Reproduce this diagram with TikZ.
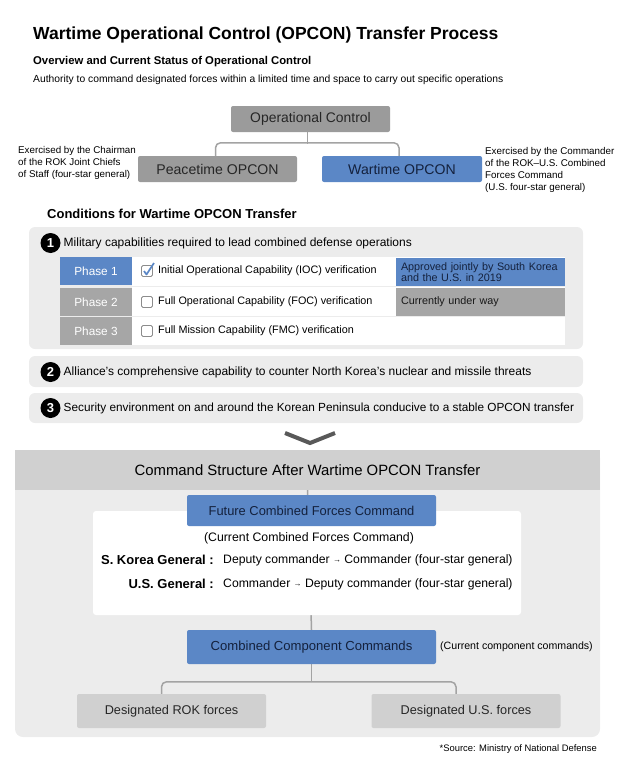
\documentclass[tikz,border=0pt]{standalone}
\usepackage{fontspec}
\setmainfont{Liberation Sans}
\usetikzlibrary{positioning}
\newcommand{\pxfont}[1]{\fontsize{#1}{#1}\selectfont}
\definecolor{opblue}{RGB}{91,135,198}
\definecolor{navy}{RGB}{20,33,61}
\definecolor{ocgray}{RGB}{155,155,155}
\definecolor{phasegray}{RGB}{166,166,166}
\definecolor{panel}{RGB}{236,236,236}
\definecolor{headgray}{RGB}{208,208,208}
\definecolor{linegray}{RGB}{163,163,163}
\definecolor{tickgray}{RGB}{140,140,140}
\pgfdeclarelayer{back}
\pgfdeclarelayer{wires}
\pgfsetlayers{back,wires,main}

\begin{document}
\begin{tikzpicture}[x=1pt,y=-1pt,
  box/.style={rounded corners=2pt, inner sep=0pt, minimum height=26pt},
  greybox/.style={box, fill=ocgray, text=black!85},
  bluebox/.style={box, fill=opblue, text=navy},
  forcebox/.style={box, fill=headgray, text=black!85, minimum width=189pt, minimum height=34pt, font=\pxfont{12.7}},
  phase/.style={fill=#1, text=white, minimum width=72pt, minimum height=28pt, inner sep=0pt, font=\pxfont{11.8}},
  status/.style={fill=#1, text=navy, text width=159pt, minimum height=28pt, inner xsep=5pt, inner ysep=0pt, align=left, font=\fontsize{10.8}{11}\selectfont},
  note/.style={align=left, inner sep=0pt, font=\fontsize{9.8}{12}\selectfont},
  link/.style={draw=linegray, line width=1.5pt, rounded corners=5pt},
  num/.style={circle, fill=black, text=white, minimum size=20pt, inner sep=0pt, font=\bfseries\pxfont{13}},
  tickbox/.style={draw=tickgray, line width=0.8pt, rounded corners=1.5pt, minimum size=11pt, inner sep=0pt},
  cond/.style={anchor=west, inner sep=0pt, font=\pxfont{12}},
  rowtext/.style={anchor=west, inner sep=0pt, font=\pxfont{10.8}},
]
  \useasboundingbox (0,0) rectangle (620,760);

  % heading
  \node[anchor=west, inner sep=0pt, font=\bfseries\pxfont{17.5}] (title) at (33,35) {Wartime Operational Control (OPCON) Transfer Process};
  \node[anchor=west, inner sep=0pt, font=\bfseries\pxfont{11.3}] (subtitle) at (33,62) {Overview and Current Status of Operational Control};
  \node[anchor=west, inner sep=0pt, font=\pxfont{10.3}] (desc) at (33,80) {Authority to command designated forces within a limited time and space to carry out specific operations};

  % operational control tree
  \node[greybox, minimum width=159pt, font=\pxfont{13.9}] (oc) at (310.5,119) {Operational Control};
  \node[greybox, minimum width=159pt, font=\pxfont{14.1}] (peace) at (217.5,169) {Peacetime OPCON};
  \node[bluebox, minimum width=160pt, font=\pxfont{14.1}] (war) at (402,169) {Wartime OPCON};
  \node[note, anchor=north west] (peacenote) at (18,146) {Exercised by the Chairman\\of the ROK Joint Chiefs\\of Staff (four-star general)};
  \node[note, anchor=north west] (warnote) at (485,147) {Exercised by the Commander\\of the ROK--U.S. Combined\\Forces Command\\(U.S. four-star general)};
  \begin{pgfonlayer}{wires}
    \draw[link] ([xshift=-2pt]peace.north) -- ++(0,-13) -| ([xshift=-3pt]war.north);
    \draw[link] ([xshift=-3pt]oc.south) -- ++(0,12);
  \end{pgfonlayer}

  % conditions
  \node[anchor=west, inner sep=0pt, font=\bfseries\pxfont{13}] (condtitle) at (47,214) {Conditions for Wartime OPCON Transfer};
  \begin{pgfonlayer}{back}
    \fill[panel, rounded corners=6pt] (29,227) rectangle (583,349);
    \fill[panel, rounded corners=6pt] (29,356) rectangle (583,387);
    \fill[panel, rounded corners=6pt] (29,393) rectangle (583,423);
    \fill[white] (132,257) rectangle (565,345);
    \draw[panel, line width=1pt] (132,286.5) -- (565,286.5) (132,316.3) -- (565,316.3);
  \end{pgfonlayer}
  \node[num] (n1) at (50.5,243) {1};
  \node[cond] (c1text) at (63.5,243) {Military capabilities required to lead combined defense operations};
  \node[phase=opblue] (p1) at (96,271) {Phase 1};
  \node[phase=phasegray] (p2) at (96,302) {Phase 2};
  \node[phase=phasegray] (p3) at (96,331) {Phase 3};
  \node[tickbox] (b1) at (147,271) {};
  \node[tickbox] (b2) at (147,302) {};
  \node[tickbox] (b3) at (147,331) {};
  \draw[opblue, line width=1.7pt, line join=round] ([xshift=-3pt]b1.center) -- ([xshift=-0.5pt,yshift=-3.5pt]b1.center) -- ([xshift=7pt,yshift=8pt]b1.center);
  \node[rowtext] (r1) at (158,271) {Initial Operational Capability (IOC) verification};
  \node[rowtext] (r2) at (158,302) {Full Operational Capability (FOC) verification};
  \node[rowtext] (r3) at (158,331) {Full Mission Capability (FMC) verification};
  \node[status=opblue] (s1) at (480.5,272) {Approved jointly by South Korea\\and the U.S. in 2019};
  \node[status=phasegray, text=black!90] (s2) at (480.5,302) {Currently under way};

  \node[num] (n2) at (50.5,372) {2};
  \node[cond] (c2text) at (63.5,372) {Alliance’s comprehensive capability to counter North Korea’s nuclear and missile threats};
  \node[num] (n3) at (50.5,408) {3};
  \node[cond, font=\pxfont{11.8}] (c3text) at (63.5,408) {Security environment on and around the Korean Peninsula conducive to a stable OPCON transfer};

  \draw[black!65, line width=4pt] (285,433) -- (310,443) -- (335,433);

  % command structure after transfer
  \begin{pgfonlayer}{back}
    \fill[panel, rounded corners=8pt] (15,450) rectangle (600,737);
  \end{pgfonlayer}
  \node[fill=headgray, minimum width=585pt, minimum height=40pt, inner sep=0pt, font=\pxfont{14.9}] (head) at (307.5,470) {Command Structure After Wartime OPCON Transfer};
  \node[fill=white, rounded corners=3pt, minimum width=428pt, minimum height=104pt, inner sep=0pt] (cfcbox) at (307,563) {};
  \node[bluebox, minimum width=249pt, minimum height=31pt, font=\pxfont{12.9}] (fcfc) at (311.5,510.5) {Future Combined Forces Command};
  \node[inner sep=0pt, font=\pxfont{12.3}] (curcfc) at (309,538) {(Current Combined Forces Command)};
  \node[anchor=east, inner sep=0pt, font=\bfseries\pxfont{13}] (korgen) at (214,560) {S. Korea General :};
  \node[anchor=west, inner sep=0pt, font=\pxfont{12.2}] (korrole) at (223,560) {Deputy commander \raisebox{0.5pt}{\pxfont{8}→} Commander (four-star general)};
  \node[anchor=east, inner sep=0pt, font=\bfseries\pxfont{13}] (usgen) at (214,584) {U.S. General :};
  \node[anchor=west, inner sep=0pt, font=\pxfont{12.2}] (usrole) at (223,584) {Commander \raisebox{0.5pt}{\pxfont{8}→} Deputy commander (four-star general)};
  \node[bluebox, minimum width=249pt, minimum height=34pt, font=\pxfont{13.1}] (ccc) at (311.5,647) {Combined Component Commands};
  \node[anchor=west, inner sep=0pt, font=\pxfont{10.6}] (curccc) at (440,647) {(Current component commands)};
  \node[forcebox] (rok) at (171.5,711) {Designated ROK forces};
  \node[forcebox] (us) at (466,711) {Designated U.S. forces};
  \begin{pgfonlayer}{wires}
    \draw[link] (head.south) -- (ccc.north);
    \draw[link] (ccc.south) -- ++(0,18);
    \draw[link] ([xshift=-10pt]rok.north) -- ++(0,-12) -| ([xshift=-10pt]us.north);
  \end{pgfonlayer}

  \node[anchor=east, inner sep=0pt, font=\pxfont{9.4}] (source) at (597,749) {*Source: Ministry of National Defense};
\end{tikzpicture}
\end{document}
